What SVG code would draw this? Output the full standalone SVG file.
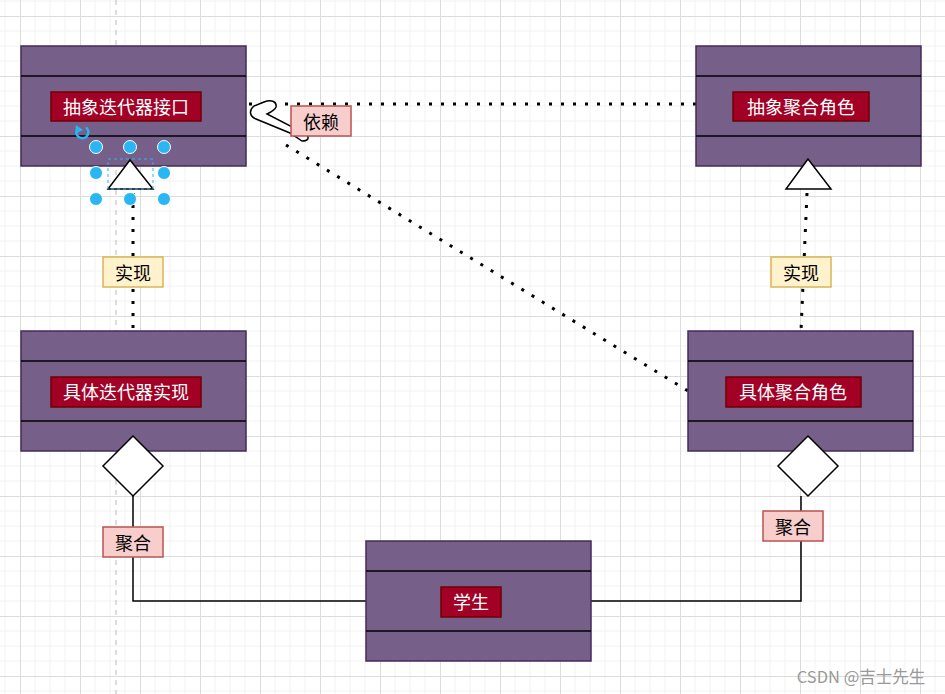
<svg xmlns="http://www.w3.org/2000/svg" width="945" height="694" viewBox="0 0 945 694">
<defs>
<pattern id="grid" patternUnits="userSpaceOnUse" x="20" y="16" width="60" height="60">
<path d="M15 0V60M30 0V60M45 0V60M0 15H60M0 30H60M0 45H60" stroke="#f2f2f2" stroke-width="1" fill="none"/>
<path d="M0.5 0V60M0 0.5H60" stroke="#dcdcdc" stroke-width="1" fill="none"/>
</pattern>
<style>
.cls{fill:#76608a;stroke:#432d57;stroke-width:1.5}
.div{stroke:#000;stroke-width:1.5}
.name{fill:#a20025;stroke:#6f0000;stroke-width:1.5}
.nt{fill:#fff;font-family:"Noto Sans CJK SC","Noto Sans",sans-serif;font-size:18px;text-anchor:middle;dominant-baseline:central}
.lt{fill:#000;font-family:"Noto Sans CJK SC","Noto Sans",sans-serif;font-size:18px;text-anchor:middle;dominant-baseline:central}
.dot{fill:none;stroke:#000;stroke-width:3;stroke-dasharray:3 9}
.solid{fill:none;stroke:#000;stroke-width:1.5}
.yel{fill:#fff2cc;stroke:#d6b656;stroke-width:1.5}
.red{fill:#f8cecc;stroke:#b85450;stroke-width:1.5}
.h{fill:#29b6f2;stroke:#fff;stroke-width:1}
</style>
</defs>
<rect width="945" height="694" fill="#fff"/>
<rect width="945" height="694" fill="url(#grid)"/>
<line x1="116" y1="0" x2="116" y2="694" stroke="#bbb" stroke-width="1" stroke-dasharray="5 5"/>

<g id="connectors">
<path class="dot" d="M249 104H696"/>
<path class="dot" d="M286 145L688 391"/>
<path class="dot" d="M133 193V331"/>
<path class="dot" d="M807 193L801 331"/>
<path class="solid" d="M133 496V601H366"/>
<path class="solid" d="M801 496V601H591"/>
<path d="M264 102C272 99 277 102 276 107C275 110 271 112 267 114L306 134C310 138 308 141 302 141L290 133L256 119C249 116 249 110 254 106Z" fill="#fff" stroke="#000" stroke-width="1.5"/>
<g id="lbl-impl1"><rect class="yel" x="103" y="257" width="60" height="30"/><text class="lt" x="133" y="272">实现</text></g>
<g id="lbl-impl2"><rect class="yel" x="771" y="257" width="60" height="30"/><text class="lt" x="801" y="272">实现</text></g>
<g id="lbl-dep"><rect class="red" x="291" y="106" width="60" height="30"/><text class="lt" x="321" y="121">依赖</text></g>
<g id="lbl-agg1"><rect class="red" x="103" y="527" width="60" height="30"/><text class="lt" x="133" y="542">聚合</text></g>
<g id="lbl-agg2"><rect class="red" x="763" y="511" width="60" height="30"/><text class="lt" x="793" y="526">聚合</text></g>
</g>

<g id="node-iter">
<rect class="cls" x="21" y="46" width="225" height="120"/>
<line class="div" x1="21" y1="76" x2="246" y2="76"/>
<line class="div" x1="21" y1="136" x2="246" y2="136"/>
<rect class="name" x="51" y="92" width="150" height="29"/>
<text class="nt" x="126" y="106">抽象迭代器接口</text>
</g>
<g id="node-agg">
<rect class="cls" x="696" y="46" width="225" height="120"/>
<line class="div" x1="696" y1="76" x2="921" y2="76"/>
<line class="div" x1="696" y1="136" x2="921" y2="136"/>
<rect class="name" x="733" y="92" width="136" height="29"/>
<text class="nt" x="801" y="106">抽象聚合角色</text>
</g>
<g id="node-citer">
<rect class="cls" x="21" y="331" width="225" height="120"/>
<line class="div" x1="21" y1="361" x2="246" y2="361"/>
<line class="div" x1="21" y1="421" x2="246" y2="421"/>
<rect class="name" x="51" y="377" width="150" height="30"/>
<text class="nt" x="126" y="391">具体迭代器实现</text>
</g>
<g id="node-cagg">
<rect class="cls" x="688" y="331" width="225" height="120"/>
<line class="div" x1="688" y1="361" x2="913" y2="361"/>
<line class="div" x1="688" y1="421" x2="913" y2="421"/>
<rect class="name" x="726" y="377" width="135" height="30"/>
<text class="nt" x="793" y="391">具体聚合角色</text>
</g>
<g id="node-student">
<rect class="cls" x="366" y="541" width="225" height="120"/>
<line class="div" x1="366" y1="571" x2="591" y2="571"/>
<line class="div" x1="366" y1="631" x2="591" y2="631"/>
<rect class="name" x="441" y="587" width="60" height="30"/>
<text class="nt" x="471" y="601">学生</text>
</g>
<g id="markers">
<polygon points="133,436 163,466 133,496 103,466" fill="#fff" stroke="#000" stroke-width="1.5"/>
<polygon points="808,436 838,466 808,496 778,466" fill="#fff" stroke="#000" stroke-width="1.5"/>
<polygon points="130,160 108,189 153,189" fill="#fff" stroke="#000" stroke-width="1.5"/>
<polygon points="808,159 786,189 831,189" fill="#fff" stroke="#000" stroke-width="1.5"/>
</g>

<g id="selection">
<rect x="108" y="159" width="45" height="30" fill="none" stroke="#29b6f2" stroke-width="1" stroke-dasharray="3 3"/>
<circle class="h" cx="96" cy="147" r="6.5"/>
<circle class="h" cx="130" cy="147" r="6.5"/>
<circle class="h" cx="164" cy="147" r="6.5"/>
<circle class="h" cx="96" cy="173" r="6.5"/>
<circle class="h" cx="164" cy="173" r="6.5"/>
<circle class="h" cx="96" cy="199" r="6.5"/>
<circle class="h" cx="130" cy="199" r="6.5"/>
<circle class="h" cx="164" cy="199" r="6.5"/>
<path d="M86 127.5A6 6 0 1 1 76.5 131" fill="none" stroke="#29b6f2" stroke-width="2.5"/>
<polygon points="76,125 83,130 75,134" fill="#29b6f2"/>
</g>
<text x="861" y="676" fill="#999" font-family="'Noto Sans CJK SC','Noto Sans',sans-serif" font-size="16.5" text-anchor="middle" dominant-baseline="central">CSDN @吉士先生</text>
</svg>
